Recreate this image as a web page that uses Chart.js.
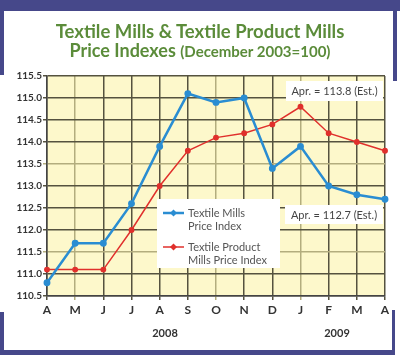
<!DOCTYPE html>
<html>
<head>
<meta charset="utf-8">
<script src="https://cdn.jsdelivr.net/npm/chart.js@4/dist/chart.umd.min.js"></script>
<style>
  html, body { margin: 0; padding: 0; background: #fff; }
  #wrap { position: relative; width: 400px; height: 355px; overflow: hidden; background: #fff; }
  #c { position: absolute; left: 0; top: 0; }
  .bar { position: absolute; background: #46488a; }
  .title { position: absolute; left: 0; width: 400px; text-align: center; color: #5b8c3a;
           font-family: Lato, "Open Sans", sans-serif; font-weight: bold; white-space: nowrap; }
</style>
</head>
<body>
<div id="wrap">
  <canvas id="c" width="400" height="355"></canvas>
  <div class="bar" style="left:0;top:0;width:400px;height:11px;"></div>
  <div class="bar" style="left:0;top:11px;width:4px;height:64px;"></div>
  <div class="bar" style="left:393px;top:11px;width:4px;height:70px;"></div>
  <div class="bar" style="left:0;top:312px;width:4px;height:43px;"></div>
  <div class="bar" style="left:392px;top:310px;width:3px;height:45px;"></div>
  <div class="bar" style="left:0;top:350px;width:395px;height:5px;"></div>
  <div class="title" style="top:20px;font-size:18.5px;">Textile Mills &amp; Textile Product Mills</div>
  <div class="title" style="top:39px;font-size:18px;">Price Indexes <span style="font-size:15px;">(December 2003=100)</span></div>
</div>
<script>
const months = ["A","M","J","J","A","S","O","N","D","J","F","M","A"];
const textileMills = [110.8,111.7,111.7,112.6,113.9,115.1,114.9,115.0,113.4,113.9,113.0,112.8,112.7];
const textileProductMills = [111.1,111.1,111.1,112.0,113.0,113.8,114.1,114.2,114.4,114.8,114.2,114.0,113.8];
const seriesNames = [["Textile Mills","Price Index"],["Textile Product","Mills Price Index"]];
const yearLabels = ["2008","2009"];
const notes = ["Apr. = 113.8 (Est.)","Apr. = 112.7 (Est.)"];

const BLUE = "#2a8dd2", RED = "#e0302c";

const overlay = {
  id: "overlay",
  beforeDraw(chart) {
    const {ctx, chartArea: a} = chart;
    ctx.save();
    ctx.fillStyle = "#fdf8cb";
    ctx.fillRect(a.left, a.top, a.right - a.left, a.bottom - a.top);
    ctx.restore();
  },
  afterDatasetsDraw(chart) {
    const ctx = chart.ctx;
    ctx.save();
    ctx.fillStyle = "#ffffff";
    ctx.fillRect(157, 199, 123, 69);
    ctx.font = "11px Lato, 'Open Sans', sans-serif";
    ctx.textBaseline = "middle";
    ctx.textAlign = "left";
    const rows = [[BLUE, 2.5, 213], [RED, 1.5, 247]];
    rows.forEach((r, i) => {
      ctx.strokeStyle = r[0]; ctx.lineWidth = r[1];
      ctx.beginPath(); ctx.moveTo(163, r[2]); ctx.lineTo(184, r[2]); ctx.stroke();
      ctx.fillStyle = r[0];
      ctx.beginPath(); ctx.moveTo(173.5, r[2]-3.5); ctx.lineTo(177, r[2]); ctx.lineTo(173.5, r[2]+3.5); ctx.lineTo(170, r[2]); ctx.closePath(); ctx.fill();
      ctx.fillStyle = "#555";
      ctx.fillText(seriesNames[i][0], 188, r[2]);
      ctx.fillText(seriesNames[i][1], 188, r[2] + 13);
    });
    const boxes = [[286, 81, 97, 20, 91], [285, 205, 98, 19, 215]];
    boxes.forEach((b, i) => {
      ctx.fillStyle = "#ffffff";
      ctx.fillRect(b[0], b[1], b[2], b[3]);
      ctx.fillStyle = "#444";
      ctx.textAlign = "center";
      ctx.fillText(notes[i], b[0] + b[2]/2, b[4]);
    });
    ctx.font = "bold 11px Lato, 'Open Sans', sans-serif";
    ctx.fillStyle = "#333";
    ctx.fillText(yearLabels[0], 165, 333);
    ctx.fillText(yearLabels[1], 337, 333);
    ctx.restore();
  }
};

const darkGrid = "#55523f", lightGrid = "#b3ad7e";
new Chart(document.getElementById("c"), {
  type: "line",
  data: {
    labels: months,
    datasets: [
      { label: seriesNames[0].join(" "), data: textileMills, borderColor: BLUE, backgroundColor: BLUE,
        borderWidth: 2.5, pointRadius: 2.2, pointHoverRadius: 2.2, tension: 0 },
      { label: seriesNames[1].join(" "), data: textileProductMills, borderColor: RED, backgroundColor: RED,
        borderWidth: 1.5, pointRadius: 2.2, pointHoverRadius: 2.2, tension: 0 }
    ]
  },
  options: {
    responsive: false,
    animation: false,
    events: [],
    layout: { padding: { top: 76, right: 15, left: 0, bottom: 0 } },
    plugins: { legend: { display: false }, tooltip: { enabled: false }, title: { display: false } },
    scales: {
      x: {
        offset: false,
        afterFit: s => { s.height = 59; },
        grid: { color: c => ([1,6,9].includes(c.index) ? lightGrid : darkGrid), lineWidth: 1.5, tickLength: 4, drawTicks: true },
        border: { color: "#444", width: 1.5 },
        ticks: { color: "#333", font: { family: "Lato, 'Open Sans', sans-serif", size: 12, weight: "bold" }, padding: 3, maxRotation: 0, autoSkip: false }
      },
      y: {
        min: 110.5, max: 115.5,
        afterFit: s => { s.width = 47; },
        grid: { color: c => ([2,6].includes(c.index) ? lightGrid : darkGrid), lineWidth: 1.5, tickLength: 4 },
        border: { color: "#444", width: 1.5 },
        ticks: { stepSize: 0.5, color: "#333", padding: 1,
                 font: { family: "Lato, 'Open Sans', sans-serif", size: 10, weight: "bold" },
                 callback: v => v.toFixed(1) }
      }
    }
  },
  plugins: [overlay]
});
</script>
</body>
</html>
